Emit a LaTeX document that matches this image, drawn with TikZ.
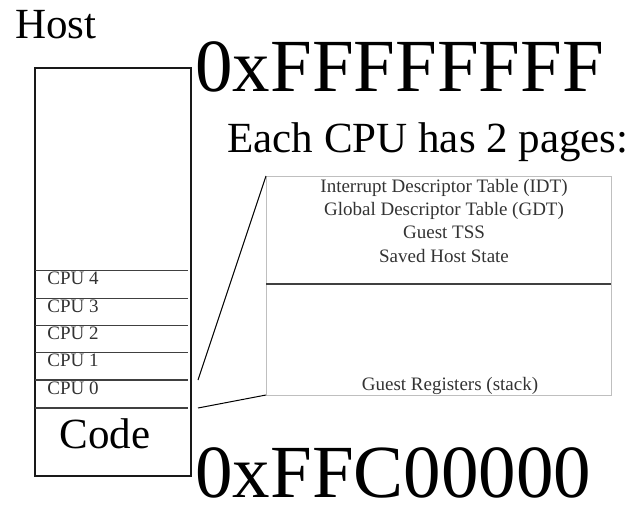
\documentclass[tikz,border=0pt]{standalone}
\usepackage{fontspec}
\setmainfont{Liberation Serif}
\usepackage{tikz}
\usetikzlibrary{positioning,calc}

\begin{document}
\begin{tikzpicture}[
    x=0.5pt, y=-0.5pt,
    big/.style={font=\fontsize{37.5}{40}\selectfont, anchor=base west, inner sep=0pt},
    mid/.style={font=\fontsize{21.5}{24}\selectfont, inner sep=0pt},
    small/.style={font=\fontsize{9.5}{11}\selectfont, text=black!80, inner sep=0pt},
    hostline/.style={draw=black!90, line width=1pt},
    rowline/.style={draw=black!75, line width=0.6pt},
    pagebox/.style={rectangle, draw=black!25, line width=0.5pt, outer sep=0pt, inner sep=0pt,
        minimum width=172.5pt, minimum height=109.5pt, anchor=north west},
    zoomline/.style={draw=black, line width=0.5pt}
]
    \useasboundingbox (0,0) rectangle (637,504);

    % host memory
    \node[mid, anchor=base west] (host) at (15,38) {Host};
    \draw[hostline] (35,68) rectangle (191,476);
    \foreach \i in {0,...,4} {
        \draw[rowline] (35,{380-27.3*\i}) -- (188,{380-27.3*\i});
        \node[small, anchor=base west] (cpu\i) at (47,{394-27.3*\i}) {CPU \i};
    }
    \draw[rowline] (35,408) -- (188,408);
    \node[mid, anchor=base] (code) at (105,448) {Code};

    % addresses
    \node[big] (top) at (195,91) {0xFFFFFFFF};
    \node[big] (bottom) at (195,497) {0xFFC00000};

    % per-cpu pages
    \node[mid, anchor=base west] (each) at (227,152) {Each CPU has 2 pages:};
    \node[pagebox] (page) at (266,176) {};
    \draw[rowline] (page.west |- 0,284) -- (page.east |- 0,284);
    \node[small, anchor=base] (idt) at (444,192) {Interrupt Descriptor Table (IDT)};
    \node[small, anchor=base] (gdt) at (444,215) {Global Descriptor Table (GDT)};
    \node[small, anchor=base] (tss) at (444,238) {Guest TSS};
    \node[small, anchor=base] (saved) at (444,262) {Saved Host State};
    \node[small, anchor=base] (regs) at (450,390) {Guest Registers (stack)};

    \coordinate (c0top) at (198,380);
    \coordinate (c0bot) at (198,408);
    \draw[zoomline] (c0top) -- (page.north west);
    \draw[zoomline] (c0bot) -- (page.south west);
\end{tikzpicture}
\end{document}
